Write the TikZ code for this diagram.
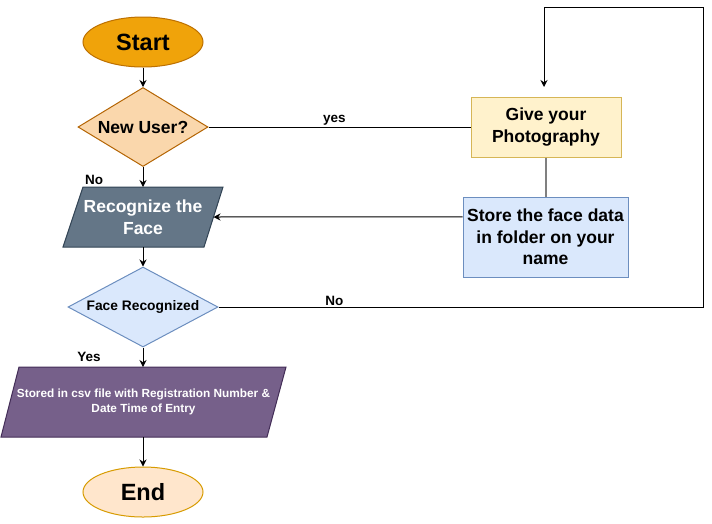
\documentclass[tikz,border=0pt]{standalone}
\usepackage{fontspec}
\setmainfont{Liberation Sans}
\usetikzlibrary{shapes.geometric,arrows.meta,calc}
\definecolor{startfill}{HTML}{F0A30A}
\definecolor{startline}{HTML}{BD7000}
\definecolor{nufill}{HTML}{FAD7AC}
\definecolor{nuline}{HTML}{B46504}
\definecolor{photofill}{HTML}{FFF2CC}
\definecolor{photoline}{HTML}{D6B656}
\definecolor{bluefill}{HTML}{DAE8FC}
\definecolor{blueline}{HTML}{6C8EBF}
\definecolor{recfill}{HTML}{647687}
\definecolor{recline}{HTML}{314354}
\definecolor{stofill}{HTML}{76608A}
\definecolor{stoline}{HTML}{432D57}
\definecolor{endfill}{HTML}{FFE6CC}
\definecolor{endline}{HTML}{D79B00}
\definecolor{grayline}{HTML}{808080}
\begin{document}
\begin{tikzpicture}[x=1pt,y=-1pt,line width=1pt,
  term/.style={ellipse, minimum width=120pt, minimum height=50pt, inner sep=0pt, font=\fontsize{23.5}{26}\selectfont\bfseries},
  decision/.style={diamond, inner sep=0pt, align=center},
  box/.style={rectangle, align=center, inner sep=0pt, font=\fontsize{17.5}{21.5}\selectfont\bfseries},
  para/.style={line width=1pt},
  arr/.style={-{Stealth[length=7pt,width=7pt]}, line width=1pt},
  conn/.style={line width=1pt},
  lbl/.style={font=\fontsize{13.5}{15}\selectfont\bfseries, inner sep=1pt}]
\useasboundingbox (0,0) rectangle (712,523);
% shapes
\node[term, fill=startfill, draw=startline] (start) at (143,42) {Start};
\node[decision, fill=nufill, draw=nuline, aspect=1.65, minimum width=130pt, minimum height=79pt,
      font=\fontsize{17.5}{20}\selectfont\bfseries] (newuser) at (143,127) {New User?};
\node[box, fill=photofill, draw=photoline, minimum width=150pt, minimum height=60pt] (photo) at (546,127) {Give your\\Photography};
\node[box, fill=bluefill, draw=blueline, minimum width=165pt, minimum height=80pt] (store) at (545.5,237) {Store the face data\\in folder on your\\name};
\filldraw[para, fill=recfill, draw=recline] (63,247) -- (204,247) -- (223,187) -- (83,187) -- cycle;
\node[box, text=white] (recog) at (143,217) {Recognize the\\Face};
\coordinate (recogTop) at (143,187);
\coordinate (recogBot) at (143,247);
\coordinate (recogR) at (213.5,217);
\node[decision, fill=bluefill, draw=blueline, aspect=1.875, minimum width=150pt, minimum height=80pt,
      font=\fontsize{13.8}{16}\selectfont\bfseries] (face) at (143,307) {Face Recognized};
\filldraw[para, fill=stofill, draw=stoline] (1,437) -- (267,437) -- (286,367) -- (19,367) -- cycle;
\node[align=center, text=white, font=\fontsize{11.8}{15}\selectfont\bfseries] (stored) at (143.5,402) {Stored in csv file with Registration Number \&\\Date Time of Entry};
\coordinate (storedTop) at (143,367);
\coordinate (storedBot) at (143,437);
\node[term, fill=endfill, draw=endline] (end) at (143,492) {End};
\coordinate (loopTR) at (703,7);
\coordinate (loopEnd) at (544,87);
% connectors
\draw[arr] (start) -- (newuser);
\draw[arr] (newuser) -- (recogTop) node[lbl, pos=0.65, xshift=-49pt] {No};
\draw[conn] (newuser.east) -- node[lbl, pos=0.48, above] {yes} (photo.west);
\draw[conn, grayline, line width=1.3pt] (photo.south) -- (photo.south |- store.north);
\draw[arr] ($(store.north west)!0.25!(store.south west)$) -- (recogR);
\draw[arr] (recogBot) -- (face);
\draw[arr] (face.east) -- node[lbl, pos=0.239, above] {No} (face.east -| loopTR) -- (loopTR) -| (loopEnd);
\draw[arr] (face) -- (storedTop) node[lbl, pos=0.5, xshift=-54pt] {Yes};
\draw[arr] (storedBot) -- (end);
\end{tikzpicture}
\end{document}
